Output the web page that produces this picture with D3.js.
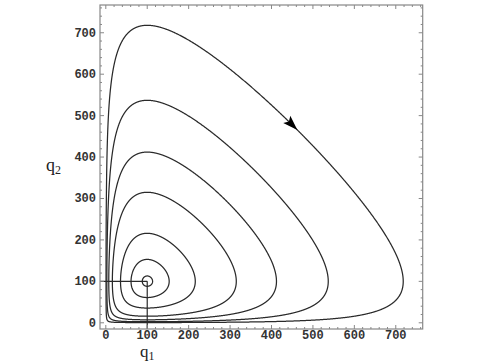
<!DOCTYPE html>
<html>
<head>
<meta charset="utf-8">
<script src="https://cdn.jsdelivr.net/npm/d3@7"></script>
<style>
  body { margin: 0; background: #fff; }
  svg { display: block; }
</style>
</head>
<body>
<script>
// equilibrium of the predator-prey system
const equilibrium = [100, 100];
// peak q2 (at q1 = 100) of each closed orbit
const orbitPeaks = [718, 537, 412, 315, 216, 153, 113];
// arrow sits on the outer orbit, near this q1 on the upper branch
const arrowAt = 462;
const tickValues = [0, 100, 200, 300, 400, 500, 600, 700];
const minorStep = 20;

const width = 485, height = 363;
const xScale = d3.scaleLinear([-14, 765], [100, 422.7]);
const yScale = d3.scaleLinear([-15, 767], [329, 5]);

const svg = d3.select("body").append("svg")
  .attr("width", width)
  .attr("height", height);

// conserved quantity of the symmetric Lotka-Volterra model
const K = equilibrium[0];
const f = (v) => v - K * Math.log(v) - (K - K * Math.log(K));

function invert(level, high) {
  // bisection on one branch of f
  let lo, hi;
  if (high) { lo = K; hi = 100000; }
  else { lo = 1e-9; hi = K; }
  for (let i = 0; i < 90; i++) {
    const mid = (lo + hi) / 2;
    const v = f(mid);
    if (high) { if (v < level) lo = mid; else hi = mid; }
    else { if (v < level) hi = mid; else lo = mid; }
  }
  return (lo + hi) / 2;
}

function orbit(peak) {
  const L = f(peak);
  const pts = [];
  const n = 2400;
  for (let i = 0; i < n; i++) {
    const th = (i / n) * 2 * Math.PI;
    const s = Math.sin(th), c = Math.cos(th);
    const qx = invert(L * s * s, s >= 0);
    const qy = invert(L * c * c, c >= 0);
    pts.push([qx, qy]);
  }
  return pts;
}

const line = d3.line()
  .x((d) => xScale(d[0]))
  .y((d) => yScale(d[1]))
  .curve(d3.curveLinearClosed);

const plot = svg.append("g");

// clip to frame
svg.append("clipPath").attr("id", "clip")
  .append("rect")
  .attr("x", xScale.range()[0]).attr("y", yScale.range()[1])
  .attr("width", xScale.range()[1] - xScale.range()[0])
  .attr("height", yScale.range()[0] - yScale.range()[1]);
plot.attr("clip-path", "url(#clip)");

const orbits = orbitPeaks.map(orbit);

plot.selectAll("path.orbit")
  .data(orbits)
  .join("path")
  .attr("class", "orbit")
  .attr("d", line)
  .attr("fill", "none")
  .attr("stroke", "#2a2a2a")
  .attr("stroke-width", 1.25);

// lines from the frame to the equilibrium
plot.append("line")
  .attr("x1", xScale.range()[0]).attr("x2", xScale(equilibrium[0]))
  .attr("y1", yScale(equilibrium[1])).attr("y2", yScale(equilibrium[1]))
  .attr("stroke", "#2a2a2a").attr("stroke-width", 1.2);
plot.append("line")
  .attr("x1", xScale(equilibrium[0])).attr("x2", xScale(equilibrium[0]))
  .attr("y1", yScale(equilibrium[1])).attr("y2", yScale.range()[0])
  .attr("stroke", "#2a2a2a").attr("stroke-width", 1.2);

// arrow head on outer orbit
{
  const pts = orbits[0];
  let best = 0, bd = Infinity;
  pts.forEach((p, i) => {
    const th = (i / pts.length) * 2 * Math.PI;
    if (th > 0 && th < Math.PI / 2 && Math.abs(p[0] - arrowAt) < bd) {
      bd = Math.abs(p[0] - arrowAt); best = i;
    }
  });
  const p = pts[best], q = pts[best + 5];
  const tx = xScale(p[0]), ty = yScale(p[1]);
  const ang = Math.atan2(yScale(q[1]) - ty, xScale(q[0]) - tx) * 180 / Math.PI;
  svg.append("path")
    .attr("d", "M0,0 L-15,-5 L-12,0 L-15,5 Z")
    .attr("transform", `translate(${tx},${ty}) rotate(${ang})`)
    .attr("fill", "#000");
}

// frame
const frame = svg.append("g");
frame.append("rect")
  .attr("x", xScale.range()[0]).attr("y", yScale.range()[1])
  .attr("width", xScale.range()[1] - xScale.range()[0])
  .attr("height", yScale.range()[0] - yScale.range()[1])
  .attr("fill", "none")
  .attr("stroke", "#888")
  .attr("stroke-width", 1.2);

const minors = d3.range(0, 761, minorStep).filter((v) => v % 100 !== 0);
const x0 = xScale.range()[0], x1 = xScale.range()[1];
const y0 = yScale.range()[0], y1 = yScale.range()[1];
const tickCol = "#888";

function ticks(vals, len) {
  vals.forEach((v) => {
    const px = xScale(v), py = yScale(v);
    frame.append("line").attr("x1", px).attr("x2", px).attr("y1", y0).attr("y2", y0 - len).attr("stroke", tickCol);
    frame.append("line").attr("x1", px).attr("x2", px).attr("y1", y1).attr("y2", y1 + len).attr("stroke", tickCol);
    frame.append("line").attr("y1", py).attr("y2", py).attr("x1", x0).attr("x2", x0 + len).attr("stroke", tickCol);
    frame.append("line").attr("y1", py).attr("y2", py).attr("x1", x1).attr("x2", x1 - len).attr("stroke", tickCol);
  });
}
ticks(tickValues, 4);
ticks(minors, 2);

// tick labels
svg.append("g").selectAll("text")
  .data(tickValues)
  .join("text")
  .attr("x", (d) => xScale(d))
  .attr("y", 339)
  .attr("text-anchor", "middle")
  .attr("font-family", "Liberation Mono, monospace")
  .attr("font-weight", "bold")
  .attr("font-size", 12)
  .attr("fill", "#333")
  .text((d) => d);

svg.append("g").selectAll("text")
  .data(tickValues)
  .join("text")
  .attr("x", 96)
  .attr("y", (d) => yScale(d) + 4)
  .attr("text-anchor", "end")
  .attr("font-family", "Liberation Mono, monospace")
  .attr("font-weight", "bold")
  .attr("font-size", 12)
  .attr("fill", "#333")
  .text((d) => d);

// axis titles
function title(x, y, sub, size) {
  const t = svg.append("text")
    .attr("x", x).attr("y", y)
    .attr("font-family", "Liberation Serif, serif")
    .attr("font-size", size)
    .attr("fill", "#222");
  t.append("tspan").text("q");
  t.append("tspan").attr("font-size", 12).attr("dy", 3).text(sub);
}
title(46, 171, "2", 18);
title(140, 357, "1", 17);
</script>
</body>
</html>
